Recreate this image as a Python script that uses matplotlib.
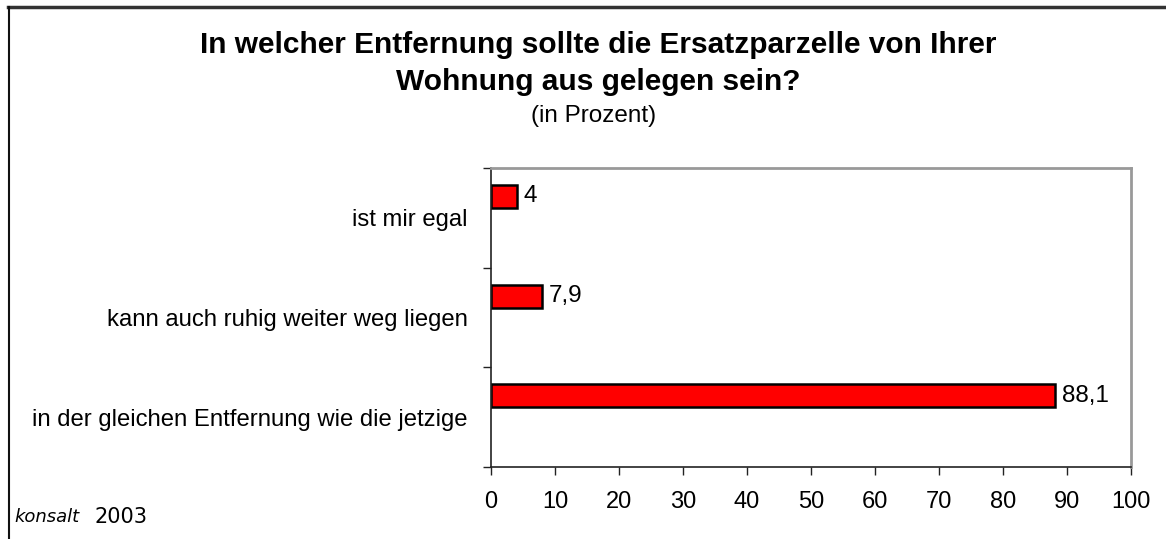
import numpy as np
from matplotlib import pyplot as plt
from matplotlib.lines import Line2D

plt.rcParams['font.family'] = ['Liberation Sans', 'DejaVu Sans']

# data
categories = ["in der gleichen Entfernung wie die jetzige",
              "kann auch ruhig weiter weg liegen",
              "ist mir egal"]
values = [88.1, 7.9, 4]
value_labels = ["88,1", "7,9", "4"]

fig = plt.figure(figsize=(11.66, 5.39), dpi=100)
W, H = 1166, 539
# axes in pixel coords: left 491, right 1131, top 168, bottom 467
ax = fig.add_axes([491 / W, 1 - 467 / H, (1131 - 491) / W, (467 - 168) / H])

y = np.arange(len(categories))
ax.barh(y + 0.215, values, height=0.23, color="#ff0000", edgecolor="black", linewidth=1.8)
for yi, v, lab in zip(y, values, value_labels):
    ax.text(v + 1.1, yi + 0.215, lab, va="center", ha="left", fontsize=17.5)

ax.set_xlim(0, 100)
ax.set_ylim(-0.5, 2.5)
ax.set_xticks(np.arange(0, 101, 10))
ax.set_yticks(np.arange(-0.5, 2.6, 1))
ax.set_yticklabels([])
ax.set_yticks(y, minor=True)
ax.set_yticklabels(categories, minor=True)
ax.tick_params(axis="y", which="minor", length=0, pad=17, labelsize=17.2)
ax.tick_params(axis="y", which="major", length=6, width=1, color="#222222")
ax.tick_params(axis="x", length=6, width=1, color="#222222", labelsize=17, pad=11)

for s in ["left", "bottom"]:
    ax.spines[s].set_color("#222222")
    ax.spines[s].set_linewidth(1.2)
for s in ["top", "right"]:
    ax.spines[s].set_color("#999999")
    ax.spines[s].set_linewidth(2)

fig.text(598 / W, 1 - 45 / H, "In welcher Entfernung sollte die Ersatzparzelle von Ihrer",
         ha="center", va="center", fontsize=21.5, fontweight="bold")
fig.text(598 / W, 1 - 82 / H, "Wohnung aus gelegen sein?",
         ha="center", va="center", fontsize=21.5, fontweight="bold")
fig.text(594 / W, 1 - 116 / H, "(in Prozent)", ha="center", va="center", fontsize=17.5)

fig.text(14 / W, 1 - 517 / H, "konsalt", ha="left", va="center", fontsize=13,
         style="italic", family="DejaVu Sans")
fig.text(94 / W, 1 - 517 / H, "2003", ha="left", va="center", fontsize=15, family="DejaVu Sans")

# frame: top and left lines
fig.add_artist(Line2D([8 / W, 1165 / W], [1 - 7 / H, 1 - 7 / H], color="#333333", lw=2.5,
                      transform=fig.transFigure))
fig.add_artist(Line2D([8.5 / W, 8.5 / W], [0, 1 - 7 / H], color="#111111", lw=1.5,
                      transform=fig.transFigure))

fig.savefig("out.png", dpi=100)
